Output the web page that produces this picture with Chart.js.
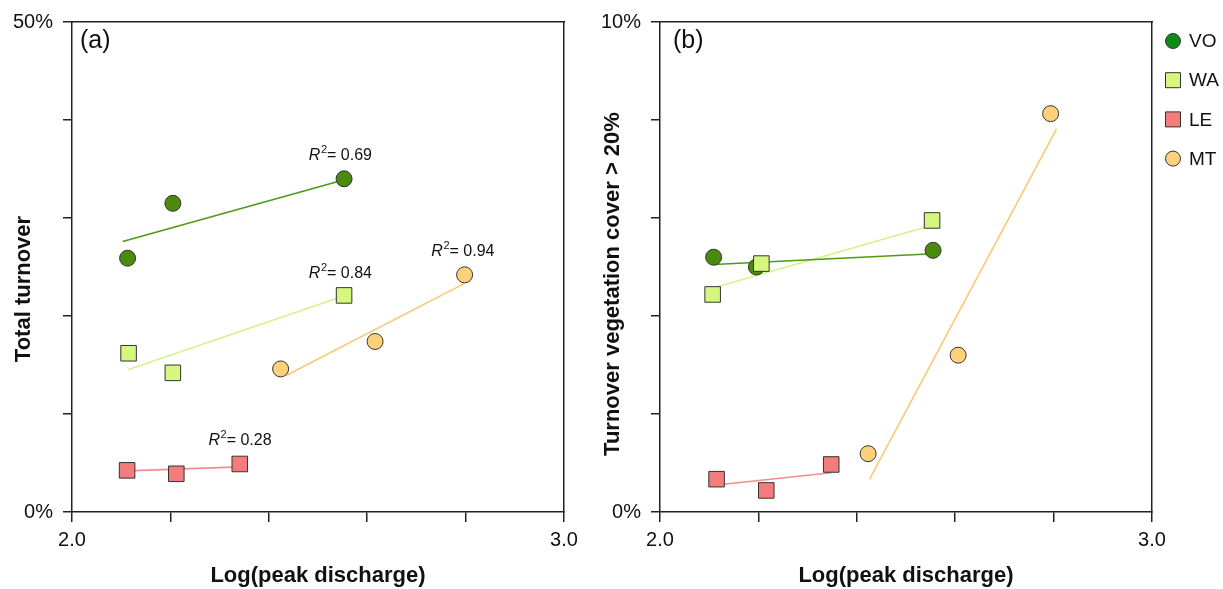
<!DOCTYPE html>
<html>
<head>
<meta charset="utf-8">
<script src="https://cdn.jsdelivr.net/npm/chart.js@4.4.1/dist/chart.umd.min.js"></script>
<style>
html, body { margin:0; padding:0; background:#fff; overflow:hidden; }
#wrap { position:relative; width:1223px; height:589px; }
canvas { position:absolute; top:0; }
#chartA { left:0; }
#chartB { left:600px; }
</style>
</head>
<body>
<div id="wrap">
  <canvas id="chartA" width="600" height="589"></canvas>
  <canvas id="chartB" width="623" height="589"></canvas>
</div>
<script>
// groups, same order as the legend
const groups = ['VO', 'WA', 'LE', 'MT'];

// x ticks: every 0.2, only the ends get a label
const xLabelled = [2.0, 3.0];
const yLabelledA = [0, 50];
const yLabelledB = [0, 10];

// (a) Total turnover (%)
const voX_a = [2.113, 2.205, 2.553];
const voY_a = [25.9, 31.5, 34.0];
const waX_a = [2.115, 2.205, 2.553];
const waY_a = [16.2, 14.2, 22.1];
const leX_a = [2.112, 2.212, 2.341];
const leY_a = [4.25, 3.9, 4.9];
const mtX_a = [2.424, 2.616, 2.798];
const mtY_a = [14.6, 17.4, 24.2];

// (a) fitted lines, ends
const voFitX_a = [2.103, 2.539];
const voFitY_a = [27.6, 33.7];
const waFitX_a = [2.115, 2.539];
const waFitY_a = [14.55, 21.8];
const leFitX_a = [2.112, 2.341];
const leFitY_a = [4.2, 4.6];
const mtFitX_a = [2.434, 2.797];
const mtFitY_a = [13.9, 23.3];

// (a) R2 labels
const r2Text_a = ['0.69', '0.84', '0.94', '0.28'];
const r2X_a = [2.545, 2.545, 2.794, 2.341];
const r2Y_a = [35.9, 23.9, 26.1, 6.8];

// (b) Turnover vegetation cover > 20% (%)
const voX_b = [2.109, 2.196, 2.555];
const voY_b = [5.2, 5.0, 5.34];
const waX_b = [2.107, 2.206, 2.553];
const waY_b = [4.44, 5.07, 5.95];
const leX_b = [2.115, 2.216, 2.348];
const leY_b = [0.67, 0.44, 0.97];
const mtX_b = [2.423, 2.606, 2.794];
const mtY_b = [1.19, 3.20, 8.13];

const voFitX_b = [2.109, 2.555];
const voFitY_b = [5.05, 5.27];
const waFitX_b = [2.107, 2.553];
const waFitY_b = [4.57, 5.85];
const leFitX_b = [2.115, 2.348];
const leFitY_b = [0.55, 0.80];
const mtFitX_b = [2.426, 2.806];
const mtFitY_b = [0.67, 7.82];

const FONT = '"Liberation Sans", Arial, Helvetica, sans-serif';
Chart.defaults.font.family = FONT;
Chart.defaults.color = '#111';

const styles = {
  VO: { shape: 'circle', fill: '#4a8a0c', line: '#4e9a12', key: '#0f8a18', order: 4 },
  WA: { shape: 'rect',   fill: '#d6f77e', line: '#d2f48a', key: '#d6f77e', order: 3 },
  LE: { shape: 'rect',   fill: '#f47c7c', line: '#f58c8c', key: '#f47c7c', order: 2 },
  MT: { shape: 'circle', fill: '#fdd17a', line: '#fcc872', key: '#fdd17a', order: 1 }
};

function pts(xs, ys) {
  return xs.map((x, i) => ({ x: x, y: ys[i] }));
}

function pointSet(name, xs, ys) {
  const s = styles[name];
  const r = s.shape === 'rect' ? 11 : 8;
  return {
    label: name,
    data: pts(xs, ys),
    xAxisID: 'x', yAxisID: 'y',
    pointStyle: s.shape,
    pointRadius: r,
    pointHoverRadius: r,
    backgroundColor: s.fill,
    borderColor: '#333',
    borderWidth: 1,
    showLine: false,
    order: s.order
  };
}

function fitSet(name, xs, ys) {
  return {
    label: name + ' fit',
    data: pts(xs, ys),
    xAxisID: 'x', yAxisID: 'y',
    showLine: true,
    pointRadius: 0,
    borderColor: styles[name].line,
    borderWidth: 1.6,
    fill: false,
    order: 10
  };
}

function makeScales(yMax, yStep, yLabels, yWidth) {
  return {
    x: {
      type: 'linear', position: 'bottom', min: 2, max: 3,
      afterFit: s => { s.height = 77; },
      ticks: {
        stepSize: 0.2, autoSkip: false, maxRotation: 0, padding: 6,
        font: { size: 20 },
        callback: v => xLabelled.some(l => Math.abs(l - v) < 1e-6) ? v.toFixed(1) : ''
      },
      grid: { drawOnChartArea: false, drawTicks: true, tickLength: 10, color: '#222', lineWidth: 1.5 },
      border: { color: '#222', width: 1.5 },
      title: { display: true, text: 'Log(peak discharge)', font: { size: 22, weight: 'bold' }, padding: { top: 0, bottom: 0 } }
    },
    y: {
      type: 'linear', position: 'left', min: 0, max: yMax,
      afterFit: s => { s.width = yWidth; },
      ticks: {
        stepSize: yStep, autoSkip: false, padding: 10,
        font: { size: 20 },
        callback: v => yLabels.some(l => Math.abs(l - v) < 1e-6) ? v + '%' : ''
      },
      grid: { drawOnChartArea: false, drawTicks: true, tickLength: 9, color: '#222', lineWidth: 1.5 },
      border: { color: '#222', width: 1.5 }
    },
    x2: {
      type: 'linear', position: 'top',
      afterFit: s => { s.height = 0; },
      ticks: { display: false },
      grid: { display: false },
      border: { display: true, color: '#222', width: 1.5 }
    },
    y2: {
      type: 'linear', position: 'right',
      afterFit: s => { s.width = 0; },
      ticks: { display: false },
      grid: { display: false },
      border: { display: true, color: '#222', width: 1.5 }
    }
  };
}

// panel letter + rotated y title (sits a bit below the middle in the original)
const panelText = {
  id: 'panelText',
  afterDraw(chart, args, opts) {
    const ctx = chart.ctx, a = chart.chartArea;
    ctx.save();
    ctx.font = '25px ' + FONT;
    ctx.fillStyle = '#111';
    ctx.textAlign = 'left';
    ctx.textBaseline = 'top';
    ctx.fillText(opts.letter, a.left + opts.dx, a.top + 7);

    ctx.translate(opts.titleX, opts.titleY);
    ctx.rotate(-Math.PI / 2);
    ctx.font = 'bold 22px ' + FONT;
    ctx.textAlign = 'center';
    ctx.textBaseline = 'middle';
    ctx.fillText(opts.title, 0, 0);
    ctx.restore();
  }
};

// R^2 text, placed in data units
const r2Labels = {
  id: 'r2Labels',
  afterDraw(chart, args, opts) {
    if (!opts.text) return;
    const ctx = chart.ctx;
    const xs = chart.scales.x, ys = chart.scales.y;
    ctx.save();
    ctx.fillStyle = '#111';
    ctx.textAlign = 'left';
    ctx.textBaseline = 'alphabetic';
    opts.text.forEach((t, i) => {
      const cx = xs.getPixelForValue(opts.x[i]);
      const cy = ys.getPixelForValue(opts.y[i]);
      ctx.font = 'italic 16px ' + FONT;
      const wR = ctx.measureText('R').width;
      ctx.font = '11px ' + FONT;
      const w2 = ctx.measureText('2').width;
      ctx.font = '16px ' + FONT;
      const rest = '= ' + t;
      const wRest = ctx.measureText(rest).width;
      let x = cx - (wR + w2 + wRest) / 2;
      ctx.font = 'italic 16px ' + FONT;
      ctx.fillText('R', x, cy);
      x += wR + 0.5;
      ctx.font = '11px ' + FONT;
      ctx.fillText('2', x, cy - 7);
      x += w2;
      ctx.font = '16px ' + FONT;
      ctx.fillText(rest, x, cy);
    });
    ctx.restore();
  }
};

// legend on the right of panel (b)
const sideLegend = {
  id: 'sideLegend',
  afterDraw(chart, args, opts) {
    if (!opts.show) return;
    const ctx = chart.ctx;
    ctx.save();
    groups.forEach((g, i) => {
      const s = styles[g];
      const cx = 573, cy = 41 + i * 39.2;
      ctx.fillStyle = s.key;
      ctx.strokeStyle = '#333';
      ctx.lineWidth = 1;
      ctx.beginPath();
      if (s.shape === 'circle') ctx.arc(cx, cy, 7.5, 0, Math.PI * 2);
      else ctx.rect(cx - 7.5, cy - 7.5, 15, 15);
      ctx.fill();
      ctx.stroke();
      ctx.font = '19px ' + FONT;
      ctx.fillStyle = '#111';
      ctx.textAlign = 'left';
      ctx.textBaseline = 'middle';
      ctx.fillText(g, 589, cy + 1);
    });
    ctx.restore();
  }
};

new Chart(document.getElementById('chartA'), {
  type: 'scatter',
  data: {
    datasets: [
      pointSet('VO', voX_a, voY_a),
      pointSet('WA', waX_a, waY_a),
      pointSet('LE', leX_a, leY_a),
      pointSet('MT', mtX_a, mtY_a),
      fitSet('VO', voFitX_a, voFitY_a),
      fitSet('WA', waFitX_a, waFitY_a),
      fitSet('LE', leFitX_a, leFitY_a),
      fitSet('MT', mtFitX_a, mtFitY_a)
    ]
  },
  options: {
    responsive: false,
    animation: false,
    layout: { padding: { left: 0, right: 36, top: 21, bottom: 0 } },
    scales: makeScales(50, 10, yLabelledA, 72),
    plugins: {
      legend: { display: false },
      tooltip: { enabled: false },
      panelText: { letter: '(a)', dx: 8, title: 'Total turnover', titleX: 24, titleY: 289 },
      r2Labels: { text: r2Text_a, x: r2X_a, y: r2Y_a },
      sideLegend: { show: false }
    }
  },
  plugins: [panelText, r2Labels, sideLegend]
});

new Chart(document.getElementById('chartB'), {
  type: 'scatter',
  data: {
    datasets: [
      pointSet('VO', voX_b, voY_b),
      pointSet('WA', waX_b, waY_b),
      pointSet('LE', leX_b, leY_b),
      pointSet('MT', mtX_b, mtY_b),
      fitSet('VO', voFitX_b, voFitY_b),
      fitSet('WA', waFitX_b, waFitY_b),
      fitSet('LE', leFitX_b, leFitY_b),
      fitSet('MT', mtFitX_b, mtFitY_b)
    ]
  },
  options: {
    responsive: false,
    animation: false,
    layout: { padding: { left: 0, right: 71, top: 21, bottom: 0 } },
    scales: makeScales(10, 2, yLabelledB, 60),
    plugins: {
      legend: { display: false },
      tooltip: { enabled: false },
      panelText: { letter: '(b)', dx: 13, title: 'Turnover vegetation cover > 20%', titleX: 13, titleY: 284 },
      r2Labels: { text: null },
      sideLegend: { show: true }
    }
  },
  plugins: [panelText, r2Labels, sideLegend]
});
</script>
</body>
</html>
